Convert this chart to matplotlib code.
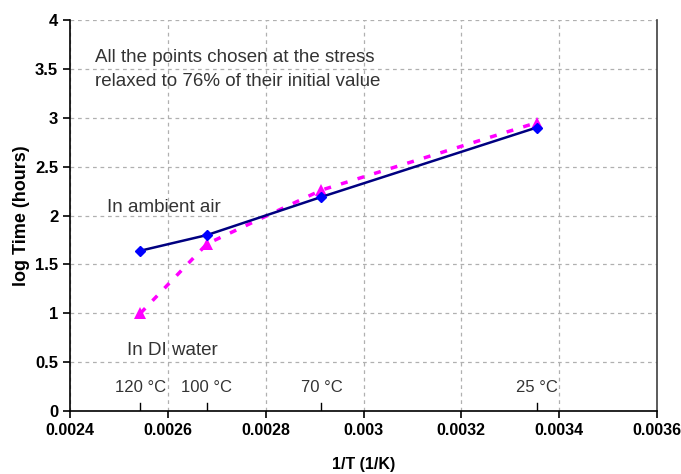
import matplotlib
matplotlib.use("Agg")
import matplotlib.pyplot as plt

inv_T = [0.002544, 0.002680, 0.002914, 0.003354]
temp_labels = ["120 °C", "100 °C", "70 °C", "25 °C"]
air = [1.64, 1.80, 2.19, 2.90]
water = [1.00, 1.71, 2.26, 2.95]

xticks = [0.0024, 0.0026, 0.0028, 0.003, 0.0032, 0.0034, 0.0036]
xticklabels = ["0.0024", "0.0026", "0.0028", "0.003", "0.0032", "0.0034", "0.0036"]
yticks = [0, 0.5, 1, 1.5, 2, 2.5, 3, 3.5, 4]
yticklabels = ["0", "0.5", "1", "1.5", "2", "2.5", "3", "3.5", "4"]

plt.rcParams['font.family'] = ['Liberation Sans', 'DejaVu Sans']

fig = plt.figure(figsize=(6.81, 4.74), dpi=100)
ax = fig.add_axes([0.1028, 0.1329, 0.8620, 0.8249])

ax.plot(inv_T, water, color='#ff00ff', linestyle=(0, (2, 3)), linewidth=2.5,
        marker='^', markersize=9, markeredgewidth=0, zorder=3)
ax.plot(inv_T, air, color='#000080', linestyle='-', linewidth=1.8,
        marker='D', markersize=5, markerfacecolor='#0000ff', markeredgecolor='#0000ff', zorder=4)

ax.set_xlim(0.0024, 0.0036)
ax.set_ylim(0, 4)
ax.set_xticks(xticks)
ax.set_xticklabels(xticklabels, fontweight='bold', fontsize=11.5)
ax.set_yticks(yticks)
ax.set_yticklabels(yticklabels, fontweight='bold', fontsize=12)
ax.tick_params(direction='out', length=5, width=1.2, color='black')

ax.grid(True, color='#b0b0b0', linestyle=(0, (3, 3)), linewidth=0.9)
ax.set_axisbelow(True)

ax.spines['top'].set_visible(False)
ax.spines['left'].set_linewidth(1.2)
ax.spines['bottom'].set_linewidth(1.2)
ax.spines['right'].set_color('#404040')
ax.spines['right'].set_linewidth(1.2)

ax.set_xlabel("1/T (1/K)", fontweight='bold', fontsize=11.5, labelpad=14)
ax.set_ylabel("log Time (hours)", fontweight='bold', fontsize=13, labelpad=4)

for x, lab in zip(inv_T, temp_labels):
    ax.plot([x, x], [0, 0.08], color='black', linewidth=1.0, zorder=2)
    ax.text(x, 0.16, lab, ha='center', va='bottom', fontsize=12, color='#333333')

ax.text(0.002451, 3.70, "All the points chosen at the stress\nrelaxed to 76% of their initial value",
        ha='left', va='top', fontsize=13.5, color='#333333', linespacing=1.5)
ax.text(0.002476, 2.08, "In ambient air", ha='left', va='center', fontsize=13.5, color='#333333')
ax.text(0.002516, 0.62, "In DI water", ha='left', va='center', fontsize=13.5, color='#333333')

fig.savefig("out.png", dpi=100)
